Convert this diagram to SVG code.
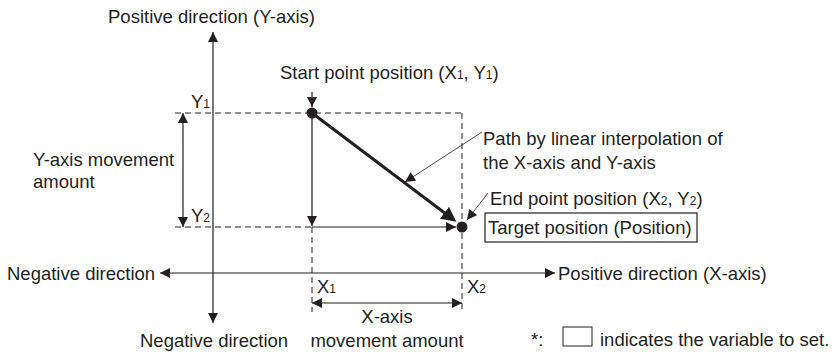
<svg xmlns="http://www.w3.org/2000/svg" width="833" height="352" viewBox="0 0 833 352">
<defs>
<style>
text{font-family:"Liberation Sans",Arial,sans-serif;font-size:18.5px;fill:#231f20}
.sub{font-size:12px}
.ln{stroke:#231f20;stroke-width:1.2;fill:none}
.dash{stroke:#231f20;stroke-width:1;fill:none;stroke-dasharray:6,4}
.thick{stroke:#231f20;stroke-width:3;fill:none}
.thin{stroke:#231f20;stroke-width:0.8;fill:none}
</style>
<marker id="ah" viewBox="0 0 10 10" refX="10" refY="5" markerWidth="11" markerHeight="10" markerUnits="userSpaceOnUse" orient="auto-start-reverse"><path d="M0,0 L10,5 L0,10 z" fill="#231f20"/></marker>
<marker id="ahb" viewBox="0 0 10 10" refX="8" refY="5" markerWidth="5" markerHeight="5" orient="auto"><path d="M0,0 L10,5 L0,10 z" fill="#231f20"/></marker>
</defs>
<rect width="833" height="352" fill="#fff"/>
<g id="connectors">
<line class="dash" x1="175" y1="113" x2="462" y2="113"/>
<line class="dash" x1="175" y1="227" x2="312" y2="227"/>
<line class="dash" x1="462" y1="113" x2="462" y2="312"/>
<line class="dash" x1="312" y1="227" x2="312" y2="312"/>
<line class="ln" x1="213" y1="32" x2="213" y2="323" marker-start="url(#ah)" marker-end="url(#ah)"/>
<line class="ln" x1="160" y1="273" x2="555" y2="273" marker-start="url(#ah)" marker-end="url(#ah)"/>
<line class="ln" x1="183" y1="113" x2="183" y2="227" marker-start="url(#ah)" marker-end="url(#ah)"/>
<line class="ln" x1="312" y1="303" x2="462" y2="303" marker-start="url(#ah)" marker-end="url(#ah)"/>
<line class="ln" x1="312" y1="92" x2="312" y2="107" marker-end="url(#ah)"/>
<line class="ln" x1="312" y1="113" x2="312" y2="226" marker-end="url(#ah)"/>
<line class="ln" x1="312" y1="227" x2="456" y2="227" marker-end="url(#ah)"/>
<line class="thick" x1="312" y1="113" x2="454" y2="220" marker-end="url(#ahb)"/>
<line class="thin" x1="482" y1="132" x2="405" y2="182" marker-end="url(#ah)"/>
<line class="thin" x1="488" y1="193" x2="467" y2="220" marker-end="url(#ah)"/>
</g>
<g id="start"><circle cx="312" cy="113" r="5.5" fill="#231f20"/><text x="280" y="79">Start point position (X<tspan class="sub">1</tspan>, Y<tspan class="sub">1</tspan>)</text></g>
<g id="end"><circle cx="462" cy="227" r="5.5" fill="#231f20"/><text x="490" y="205">End point position (X<tspan class="sub">2</tspan>, Y<tspan class="sub">2</tspan>)</text>
<rect x="485" y="213" width="212" height="29" fill="none" stroke="#231f20" stroke-width="1.2"/><text x="488" y="234">Target position (Position)</text></g>
<g id="path-label"><text x="483" y="145">Path by linear interpolation of</text><text x="483" y="169">the X-axis and Y-axis</text></g>
<g id="y-axis-labels"><text x="108" y="23">Positive direction (Y-axis)</text><text x="140" y="347">Negative direction</text>
<text x="191" y="108">Y<tspan class="sub">1</tspan></text><text x="191" y="222">Y<tspan class="sub">2</tspan></text>
<text x="33" y="166">Y-axis movement</text><text x="33" y="188">amount</text></g>
<g id="x-axis-labels"><text x="7" y="280">Negative direction</text><text x="558" y="280">Positive direction (X-axis)</text>
<text x="317" y="293">X<tspan class="sub">1</tspan></text><text x="467" y="293">X<tspan class="sub">2</tspan></text>
<text x="387" y="323" text-anchor="middle">X-axis</text><text x="387" y="347" text-anchor="middle">movement amount</text></g>
<g id="legend"><text x="531" y="346">*:</text><rect x="563" y="327" width="29" height="19" fill="none" stroke="#231f20" stroke-width="1"/><text x="600" y="346">indicates the variable to set.</text></g>
</svg>
